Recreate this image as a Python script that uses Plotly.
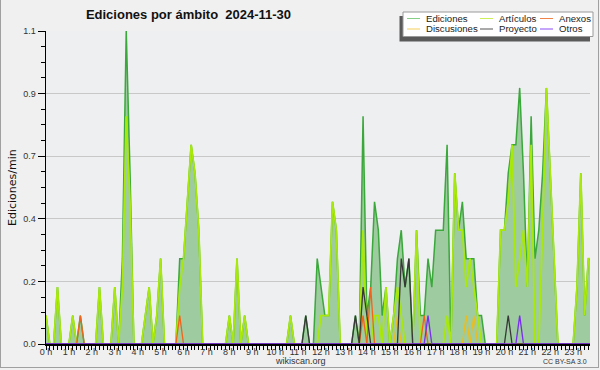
import plotly.graph_objects as go

# 10-minute bins, 6 per hour (00:00 ... 23:50); values = edits per minute
ediciones = [
    0.1, 0, 0, 0.2, 0, 0,        # 0 h
    0, 0.1, 0, 0.1, 0, 0,        # 1 h
    0, 0, 0.2, 0, 0, 0,          # 2 h
    0.2, 0, 0.3, 1.1, 0.6, 0,    # 3 h
    0, 0, 0.1, 0.2, 0, 0.1,      # 4 h
    0.3, 0, 0, 0, 0, 0.3,        # 5 h
    0.3, 0.5, 0.7, 0.6, 0.4, 0,  # 6 h
    0, 0, 0, 0, 0, 0,            # 7 h
    0.1, 0, 0.3, 0, 0.1, 0,      # 8 h
    0, 0, 0, 0, 0, 0,            # 9 h
    0, 0, 0, 0, 0.1, 0,          # 10 h
    0, 0, 0.1, 0, 0, 0.3,        # 11 h
    0.2, 0.1, 0.1, 0.5, 0.4, 0,  # 12 h
    0, 0, 0, 0.1, 0, 0.8,        # 13 h
    0.1, 0.2, 0.5, 0.4, 0.1, 0.2,  # 14 h
    0, 0.1, 0.3, 0.4, 0.2, 0.3,  # 15 h
    0, 0.4, 0.1, 0.1, 0.3, 0.2,  # 16 h
    0.4, 0.4, 0.4, 0.7, 0, 0.6,  # 17 h
    0.4, 0.5, 0.3, 0.3, 0.3, 0.1,  # 18 h
    0.1, 0, 0, 0, 0, 0.4,        # 19 h
    0.4, 0.6, 0.7, 0.7, 0.9, 0.6,  # 20 h
    0.2, 0.8, 0.3, 0.4, 0.6, 0.9,  # 21 h
    0.6, 0.3, 0, 0, 0, 0,        # 22 h
    0, 0.2, 0.6, 0.1, 0.3, 0.3,  # 23 h
]
articulos = [
    0.1, 0, 0, 0.2, 0, 0,
    0, 0.1, 0, 0, 0, 0,
    0, 0, 0.2, 0, 0, 0,
    0.2, 0, 0.2, 0.8, 0.5, 0,
    0, 0, 0.1, 0.2, 0, 0.1,
    0.3, 0, 0, 0, 0, 0.2,
    0.3, 0.5, 0.7, 0.6, 0.4, 0,
    0, 0, 0, 0, 0, 0,
    0.1, 0, 0.3, 0, 0.1, 0,
    0, 0, 0, 0, 0, 0,
    0, 0, 0, 0, 0.1, 0,
    0, 0, 0, 0, 0, 0,
    0.1, 0.1, 0.1, 0.5, 0.4, 0,
    0, 0, 0, 0, 0, 0.4,
    0, 0, 0.1, 0.1, 0, 0.2,
    0, 0.1, 0.2, 0.1, 0, 0,
    0, 0.4, 0, 0, 0, 0,
    0, 0, 0, 0.1, 0, 0.6,
    0.4, 0.4, 0.2, 0.3, 0.2, 0.1,
    0, 0, 0, 0, 0, 0.4,
    0.4, 0.5, 0.7, 0.2, 0.3, 0.4,
    0.2, 0.7, 0, 0, 0.4, 0.9,
    0.6, 0.3, 0, 0, 0, 0,
    0, 0.2, 0.6, 0.1, 0.3, 0.3,
]
anexos = [
    0, 0, 0, 0, 0, 0,
    0, 0, 0, 0.1, 0, 0,
    0, 0, 0, 0, 0, 0,
    0, 0, 0, 0, 0, 0,
    0, 0, 0, 0, 0, 0,
    0, 0, 0, 0, 0, 0.1,
    0, 0, 0, 0, 0, 0,
    0, 0, 0, 0, 0, 0,
    0, 0, 0, 0, 0, 0,
    0, 0, 0, 0, 0, 0,
    0, 0, 0, 0, 0, 0,
    0, 0, 0, 0, 0, 0,
    0, 0, 0, 0, 0, 0,
    0, 0, 0, 0, 0, 0.1,
    0, 0.2, 0, 0, 0, 0,
    0, 0, 0, 0, 0, 0,
    0, 0, 0, 0.1, 0, 0,
    0, 0, 0, 0, 0, 0,
    0, 0, 0, 0, 0, 0,
    0, 0, 0, 0, 0, 0,
    0, 0, 0, 0, 0, 0,
    0, 0, 0, 0, 0, 0,
    0, 0, 0, 0, 0, 0,
    0, 0, 0, 0, 0, 0,
]
discusiones = [
    0, 0, 0, 0, 0, 0,
    0, 0, 0, 0, 0, 0,
    0, 0, 0, 0, 0, 0,
    0, 0, 0, 0, 0, 0,
    0, 0, 0, 0, 0, 0,
    0, 0, 0, 0, 0, 0,
    0, 0, 0, 0, 0, 0,
    0, 0, 0, 0, 0, 0,
    0, 0, 0, 0, 0, 0,
    0, 0, 0, 0, 0, 0,
    0, 0, 0, 0, 0, 0,
    0, 0, 0, 0, 0, 0,
    0, 0, 0, 0, 0, 0,
    0, 0, 0, 0, 0, 0,
    0, 0, 0, 0, 0, 0,
    0, 0, 0.1, 0, 0, 0,
    0, 0, 0, 0, 0, 0,
    0, 0, 0, 0, 0, 0,
    0, 0, 0.1, 0, 0.1, 0,
    0, 0, 0, 0, 0, 0,
    0, 0, 0, 0, 0, 0,
    0, 0, 0, 0, 0, 0,
    0, 0, 0, 0, 0, 0,
    0, 0, 0, 0, 0, 0,
]
proyecto = [
    0, 0, 0, 0, 0, 0,
    0, 0, 0, 0, 0, 0,
    0, 0, 0, 0, 0, 0,
    0, 0, 0, 0, 0, 0,
    0, 0, 0, 0, 0, 0,
    0, 0, 0, 0, 0, 0,
    0, 0, 0, 0, 0, 0,
    0, 0, 0, 0, 0, 0,
    0, 0, 0, 0, 0, 0,
    0, 0, 0, 0, 0, 0,
    0, 0, 0, 0, 0, 0,
    0, 0, 0.1, 0, 0, 0,
    0, 0, 0, 0, 0, 0,
    0, 0, 0, 0.1, 0, 0.2,
    0.1, 0, 0, 0, 0, 0,
    0, 0, 0, 0.3, 0.2, 0.3,
    0, 0, 0, 0, 0, 0,
    0, 0, 0, 0, 0, 0,
    0, 0, 0, 0, 0, 0,
    0, 0, 0, 0, 0, 0,
    0, 0.1, 0, 0, 0, 0,
    0, 0, 0, 0, 0, 0,
    0, 0, 0, 0, 0, 0,
    0, 0, 0, 0, 0, 0,
]
otros = [
    0, 0, 0, 0, 0, 0,
    0, 0, 0, 0, 0, 0,
    0, 0, 0, 0, 0, 0,
    0, 0, 0, 0, 0, 0,
    0, 0, 0, 0, 0, 0,
    0, 0, 0, 0, 0, 0,
    0, 0, 0, 0, 0, 0,
    0, 0, 0, 0, 0, 0,
    0, 0, 0, 0, 0, 0,
    0, 0, 0, 0, 0, 0,
    0, 0, 0, 0, 0, 0,
    0, 0, 0, 0, 0, 0,
    0, 0, 0, 0, 0, 0,
    0, 0, 0, 0, 0, 0,
    0, 0, 0, 0, 0, 0,
    0, 0, 0, 0, 0, 0,
    0, 0, 0, 0, 0.1, 0,
    0, 0, 0, 0, 0, 0,
    0, 0, 0, 0, 0, 0,
    0, 0, 0, 0, 0, 0,
    0, 0, 0, 0, 0.1, 0,
    0, 0, 0, 0, 0, 0,
    0, 0, 0, 0, 0, 0,
    0, 0, 0, 0, 0, 0,
]

hours = list(range(24))
hour_labels = [f"{h} h" for h in hours]
y_tickvals = [0, 0.22, 0.44, 0.66, 0.88, 1.1]
y_ticklabels = ["0.0", "0.2", "0.4", "0.7", "0.9", "1.1"]

title_text = "Ediciones por ámbito  2024-11-30"
y_title = "Ediciones/min"

# time of each 10-minute bin, in hours
x = [i / 6 for i in range(len(ediciones))]

W, H = 600, 370
L, R, T, B = 46, 10, 31, 26
PW, PH = W - L - R, H - T - B


def px(xp):
    return (xp - L) / PW


def py(yp):
    return (H - B - yp) / PH


FONT = "Liberation Sans, Arial, sans-serif"

fig = go.Figure()
fig.add_trace(go.Scatter(x=x, y=ediciones, mode="lines", name="Ediciones",
                         line=dict(color="#3aa83a", width=1.5),
                         fill="tozeroy", fillcolor="#9ecb9f"))
series = [
    ("Artículos", articulos, "#a8e80a", 1.8),
    ("Anexos", anexos, "#f2641a", 1.3),
    ("Discusiones", discusiones, "#ebbd1e", 1.3),
    ("Proyecto", proyecto, "#383838", 1.3),
    ("Otros", otros, "#7a2cf0", 1.3),
]
for name, vals, col, w in series:
    fig.add_trace(go.Scatter(x=x, y=vals, mode="lines", name=name,
                             line=dict(color=col, width=w)))

shapes = []
annotations = []

# outer frame
shapes += [
    dict(type="line", xref="paper", yref="paper", x0=px(0.5), x1=px(0.5), y0=py(0), y1=py(367.5),
         line=dict(color="#a0a0a0", width=1)),
    dict(type="line", xref="paper", yref="paper", x0=px(0), x1=px(599), y0=py(367.5), y1=py(367.5),
         line=dict(color="#a0a0a0", width=1)),
    dict(type="line", xref="paper", yref="paper", x0=px(598.5), x1=px(598.5), y0=py(0), y1=py(367.5),
         line=dict(color="#a0a0a0", width=1)),
]

# legend box with shadow
shapes.append(dict(type="rect", xref="paper", yref="paper", layer="above",
                   x0=px(399.5), x1=px(590), y0=py(16), y1=py(41.5),
                   fillcolor="#5a5a5a", line=dict(width=0)))
shapes.append(dict(type="rect", xref="paper", yref="paper", layer="above",
                   x0=px(403), x1=px(593), y0=py(12), y1=py(36.5),
                   fillcolor="#ffffff", line=dict(color="#9a9a9a", width=1)))
legend_items = [
    ("Ediciones", "#86cf86", 407, 18.5),
    ("Artículos", "#cdef5a", 480, 18.5),
    ("Anexos", "#f08448", 540, 18.5),
    ("Discusiones", "#f3cf5c", 407, 29),
    ("Proyecto", "#555555", 480, 29),
    ("Otros", "#8a4cf5", 540, 29),
]
for name, col, lx, ly in legend_items:
    shapes.append(dict(type="line", xref="paper", yref="paper", layer="above",
                       x0=px(lx), x1=px(lx + 13), y0=py(ly), y1=py(ly),
                       line=dict(color=col, width=1)))
    annotations.append(dict(text=name, xref="paper", yref="paper", x=px(lx + 16.5), y=py(ly),
                            xanchor="left", yanchor="middle", showarrow=False,
                            font=dict(family=FONT, size=9.6, color="#222222")))

# y-axis title
annotations.append(dict(text=y_title, xref="paper", yref="paper", x=px(12), y=py(188),
                        xanchor="center", yanchor="middle", textangle=-90, showarrow=False,
                        font=dict(family="DejaVu Sans", size=11, color="#111111")))
# footer texts
annotations.append(dict(text="wikiscan.org", xref="paper", yref="paper", x=px(300.5), y=py(361),
                        xanchor="center", yanchor="middle", showarrow=False,
                        font=dict(family=FONT, size=9, color="#333333")))
annotations.append(dict(text="CC BY-SA 3.0", xref="paper", yref="paper", x=px(589), y=py(361.5),
                        xanchor="right", yanchor="middle", showarrow=False,
                        font=dict(family=FONT, size=7, color="#333333")))

fig.update_layout(
    width=W, height=H,
    margin=dict(l=L, r=R, t=T, b=B, pad=0, autoexpand=False),
    paper_bgcolor="#f0f0f0",
    plot_bgcolor="#edeff1",
    showlegend=False,
    hovermode=False,
    title=dict(text=f"<b>{title_text}</b>", x=188.5 / W, xanchor="center",
               y=1 - 14 / H, yanchor="middle",
               font=dict(family=FONT, size=13, color="#111111")),
    shapes=shapes,
    annotations=annotations,
)
fig.update_xaxes(
    range=[0, PW / 22.92], tickvals=hours, ticktext=hour_labels,
    ticks="outside", ticklen=4, tickcolor="#000000", tickwidth=1,
    minor=dict(dtick=1 / 6, tick0=0, ticks="outside", ticklen=4, tickcolor="#000000", tickwidth=1),
    showline=True, linecolor="#000000", linewidth=1.5, layer="above traces",
    showgrid=False, zeroline=False, automargin=False, ticklabelstandoff=-5,
    tickfont=dict(family=FONT, size=9, color="#333333"),
)
fig.update_yaxes(
    range=[0, 1.1], tickvals=y_tickvals, ticktext=y_ticklabels,
    ticks="outside", ticklen=7, tickcolor="#000000", tickwidth=1,
    minor=dict(dtick=0.055, tick0=0, ticks="outside", ticklen=3.5, tickcolor="#000000", tickwidth=1),
    showline=True, linecolor="#000000", linewidth=1.5, layer="above traces",
    showgrid=True, gridcolor="#c8c8c8", gridwidth=1, zeroline=False, automargin=False,
    tickfont=dict(family=FONT, size=9, color="#333333"),
)

fig.write_html(
    "out.html",
    config={"displayModeBar": False, "staticPlot": True},
    post_script="document.body.style.margin='0';document.body.style.padding='0';"
                "document.body.style.background='#f0f0f0';",
)
